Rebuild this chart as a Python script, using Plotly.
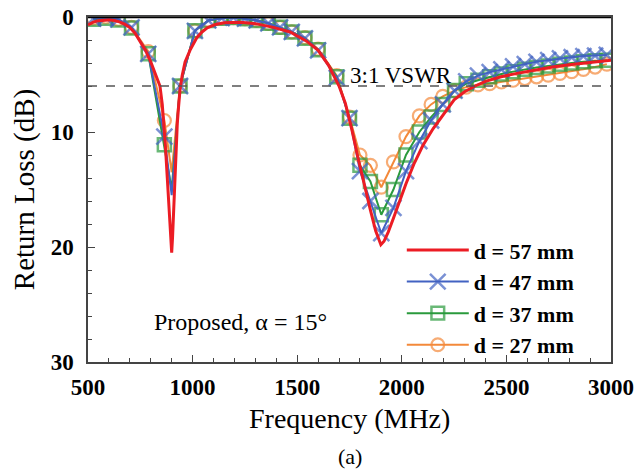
import plotly.graph_objects as go

# d = 57 mm (solid curve, densely sampled)
RED_F = [500, 525, 550, 575, 600, 625, 650, 675, 700, 725, 750, 775, 800, 820, 844,
         855, 862, 870, 879, 886, 892, 897, 900, 904, 908, 912, 916, 921, 927, 933,
         940, 950, 964, 990, 1020, 1045, 1070, 1110, 1150, 1230, 1306, 1386, 1466,
         1545, 1600, 1650, 1700, 1730, 1760, 1790, 1820, 1850, 1875, 1900, 1915, 1935,
         1960, 1990, 2020, 2060, 2100, 2150, 2200, 2250, 2300, 2350, 2400, 2475, 2550,
         2635, 2720, 2800, 2900, 3000]
RED_RL = [0.70, 0.45, 0.32, 0.26, 0.25, 0.30, 0.42, 0.62, 0.92, 1.40, 2.10, 2.90, 3.90,
          4.80, 6.00, 7.60, 9.00, 11.2, 14.0, 16.5, 18.6, 20.0, 20.5, 19.2, 17.3, 15.0,
          12.8, 10.8, 9.2, 7.8, 6.3, 5.1, 3.9, 2.8, 1.8, 1.3, 0.95, 0.65, 0.50, 0.45,
          0.60, 0.90, 1.30, 2.10, 2.90, 4.20, 6.00, 7.50, 9.70, 12.2, 14.6, 16.8, 18.6,
          19.8, 19.5, 18.7, 17.5, 16.0, 14.5, 12.7, 11.2, 9.7, 8.5, 7.2, 6.5, 6.0, 5.6,
          5.2, 4.9, 4.6, 4.35, 4.15, 3.95, 3.75]

# Sampled curves for d = 47, 37, 27 mm
MK_F = [525, 585, 645, 708, 788, 865, 900, 940, 1011, 1075, 1139, 1195, 1250, 1306,
        1362, 1418, 1474, 1537, 1600, 1689, 1750, 1800, 1850, 1902, 1960, 2020, 2084,
        2140, 2196, 2252, 2308, 2364, 2420, 2476, 2532, 2588, 2644, 2700, 2756, 2812,
        2868, 2924, 2980]
# samples drawn without a symbol
UNMARKED_F = [900]

RL_47 = [0.15, 0.05, 0.20, 0.90, 3.2, 10.4, 15.5, 6.0, 1.2, 0.30, 0.10, 0.05, 0.15, 0.30,
         0.55, 0.90, 1.30, 1.85, 2.90, 5.3, 8.8, 13.4, 16.0, 18.8, 16.6, 13.4, 10.8,
         9.0, 7.6, 6.4, 5.6, 5.1, 4.8, 4.55, 4.3, 4.1, 3.9, 3.75, 3.6, 3.5, 3.4, 3.35, 3.3]
RL_37 = [0.20, 0.10, 0.25, 0.95, 3.2, 11.1, 15.0, 6.0, 1.2, 0.30, 0.10, 0.05, 0.15, 0.30,
         0.55, 0.90, 1.30, 1.85, 2.85, 5.2, 8.8, 12.9, 14.3, 17.2, 15.0, 12.0, 10.0,
         8.7, 7.6, 6.4, 5.8, 5.5, 5.2, 4.95, 4.75, 4.55, 4.4, 4.25, 4.1, 4.0, 3.9, 3.8, 3.75]
RL_27 = [0.10, 0.00, 0.20, 0.90, 3.0, 9.0, 13.5, 6.0, 1.2, 0.30, 0.10, 0.05, 0.15, 0.30,
         0.55, 0.90, 1.30, 1.80, 2.80, 5.1, 8.7, 12.0, 12.9, 14.8, 12.6, 10.4, 8.6,
         7.6, 6.9, 6.4, 6.1, 5.9, 5.8, 5.65, 5.5, 5.35, 5.2, 5.05, 4.9, 4.75, 4.55, 4.35, 4.1]

NAMES = ["d = 57 mm", "d = 47 mm", "d = 37 mm", "d = 27 mm"]
VSWR_LEVEL = 6.0  # 3:1 VSWR in return loss (dB)

SERIF = "Liberation Serif"
RED, BLUE, GREEN, ORANGE = "#ec1c24", "#4262c2", "#2a9a3c", "#f3893a"


def sizes(size):
    return [0 if f in UNMARKED_F else size for f in MK_F]


fig = go.Figure()

# drawn bottom to top: orange, green, blue, red
fig.add_trace(go.Scatter(
    x=MK_F, y=RL_27, name=NAMES[3], mode="lines+markers",
    line=dict(color=ORANGE, width=2),
    marker=dict(symbol="circle-open", size=sizes(13), color=ORANGE,
                line=dict(color=ORANGE, width=2.2))))
fig.add_trace(go.Scatter(
    x=MK_F, y=RL_37, name=NAMES[2], mode="lines+markers",
    line=dict(color=GREEN, width=2),
    marker=dict(symbol="square-open", size=sizes(13), color=GREEN,
                line=dict(color=GREEN, width=2.5))))
fig.add_trace(go.Scatter(
    x=MK_F, y=RL_47, name=NAMES[1], mode="lines+markers",
    line=dict(color=BLUE, width=2),
    marker=dict(symbol="x-thin-open", size=sizes(16), color=BLUE,
                line=dict(color=BLUE, width=2.5))))
fig.add_trace(go.Scatter(
    x=RED_F, y=RED_RL, name=NAMES[0], mode="lines",
    line=dict(color=RED, width=3)))

# 3:1 VSWR reference level and top frame line
fig.add_hline(y=VSWR_LEVEL, line=dict(color="#555555", width=1.3, dash="dash"))
fig.add_hline(y=0, line=dict(color="black", width=2.5))

fig.add_annotation(x=1995, y=VSWR_LEVEL, text="3:1 VSWR", showarrow=False,
                   xanchor="center", yanchor="bottom", yshift=-4,
                   font=dict(family=SERIF, size=23, color="black"))
fig.add_annotation(x=1231, y=26.5, text="Proposed, α = 15°", showarrow=False,
                   xanchor="center", yanchor="middle",
                   font=dict(family=SERIF, size=24, color="black"))
# x-axis title and panel label
fig.add_annotation(x=0.5, y=-0.163, xref="paper", yref="paper", text="Frequency (MHz)",
                   showarrow=False, xanchor="center", yanchor="middle",
                   font=dict(family=SERIF, size=28, color="black"))
fig.add_annotation(x=0.5, y=-0.274, xref="paper", yref="paper", text="(a)",
                   showarrow=False, xanchor="center", yanchor="middle",
                   font=dict(family=SERIF, size=22, color="black"))

axis_common = dict(
    showgrid=False, zeroline=False, showline=True, linecolor="#444444",
    linewidth=1.5, mirror=True, ticks="inside", ticklen=7, tickwidth=1.2,
    tickcolor="#444444",
    tickfont=dict(family=SERIF, size=23, color="black", weight="bold"),
)

fig.update_xaxes(
    range=[500, 3000], tick0=500, dtick=500,
    minor=dict(dtick=100, ticks="inside", ticklen=4, tickcolor="#444444"),
    ticklabelstandoff=4,
    **axis_common)
fig.update_yaxes(
    range=[30, 0], tick0=0, dtick=10,
    minor=dict(dtick=2, ticks="inside", ticklen=4, tickcolor="#444444"),
    title=dict(text="Return Loss (dB)", font=dict(family=SERIF, size=29, color="black"),
               standoff=8),
    ticklabelstandoff=8,
    **axis_common)

fig.update_layout(
    width=640, height=474,
    margin=dict(l=88, r=29, t=17, b=112, autoexpand=False),
    plot_bgcolor="white", paper_bgcolor="white",
    showlegend=True,
    legend=dict(x=0.6, y=0.385, xanchor="left", yanchor="top",
                traceorder="reversed", itemwidth=62, bgcolor="rgba(0,0,0,0)",
                font=dict(family=SERIF, size=22, color="black", weight="bold")),
)

fig.write_html("out.html")
